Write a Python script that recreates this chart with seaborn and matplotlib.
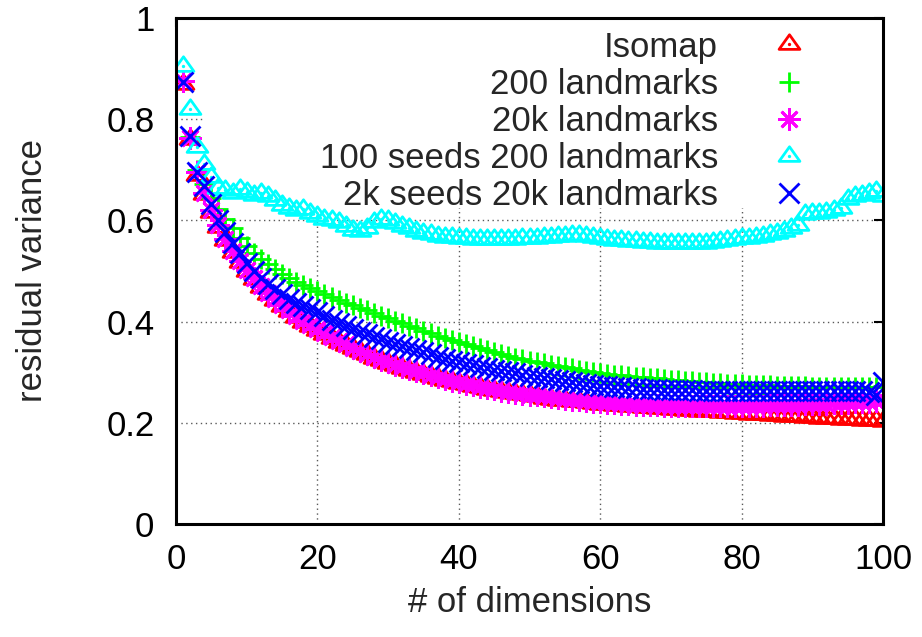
import matplotlib
matplotlib.use("Agg")
import matplotlib.pyplot as plt
from matplotlib.path import Path
from matplotlib.patches import Rectangle
import seaborn as sns

# residual variance vs number of dimensions
dims = list(range(1, 101))

isomap = [
    0.870, 0.760, 0.690, 0.652, 0.617, 0.587, 0.561, 0.538, 0.518, 0.500,
    0.484, 0.469, 0.455, 0.443, 0.431, 0.420, 0.410, 0.400, 0.391, 0.383,
    0.375, 0.367, 0.360, 0.353, 0.347, 0.341, 0.335, 0.329, 0.324, 0.319,
    0.314, 0.309, 0.305, 0.301, 0.297, 0.293, 0.289, 0.285, 0.282, 0.279,
    0.276, 0.273, 0.270, 0.267, 0.265, 0.262, 0.260, 0.258, 0.256, 0.254,
    0.252, 0.250, 0.248, 0.246, 0.245, 0.244, 0.243, 0.241, 0.240, 0.238,
    0.237, 0.236, 0.235, 0.234, 0.233, 0.232, 0.231, 0.230, 0.229, 0.228,
    0.227, 0.226, 0.225, 0.224, 0.223, 0.223, 0.222, 0.221, 0.220, 0.219,
    0.218, 0.217, 0.217, 0.216, 0.215, 0.214, 0.213, 0.213, 0.212, 0.211,
    0.210, 0.209, 0.209, 0.208, 0.207, 0.207, 0.206, 0.205, 0.205, 0.204,
]

lm200 = [
    0.876, 0.765, 0.700, 0.672, 0.645, 0.622, 0.603, 0.585, 0.566, 0.549,
    0.536, 0.524, 0.513, 0.503, 0.494, 0.486, 0.479, 0.472, 0.466, 0.460,
    0.454, 0.448, 0.443, 0.437, 0.432, 0.427, 0.422, 0.417, 0.412, 0.407,
    0.402, 0.397, 0.392, 0.387, 0.382, 0.377, 0.372, 0.367, 0.363, 0.359,
    0.355, 0.351, 0.347, 0.343, 0.339, 0.336, 0.332, 0.329, 0.326, 0.323,
    0.320, 0.318, 0.315, 0.313, 0.310, 0.308, 0.305, 0.303, 0.300, 0.298,
    0.296, 0.295, 0.294, 0.292, 0.291, 0.290, 0.289, 0.288, 0.286, 0.285,
    0.284, 0.283, 0.282, 0.281, 0.280, 0.279, 0.278, 0.277, 0.277, 0.276,
    0.275, 0.275, 0.274, 0.274, 0.273, 0.273, 0.272, 0.272, 0.272, 0.271,
    0.271, 0.271, 0.270, 0.270, 0.270, 0.270, 0.270, 0.270, 0.270, 0.272,
]

lm20k = [
    0.875, 0.762, 0.695, 0.655, 0.620, 0.590, 0.563, 0.540, 0.520, 0.502,
    0.486, 0.471, 0.457, 0.445, 0.433, 0.422, 0.412, 0.402, 0.393, 0.385,
    0.377, 0.369, 0.362, 0.355, 0.348, 0.342, 0.336, 0.330, 0.325, 0.320,
    0.315, 0.310, 0.306, 0.302, 0.298, 0.294, 0.290, 0.286, 0.283, 0.280,
    0.277, 0.274, 0.271, 0.268, 0.266, 0.263, 0.261, 0.259, 0.257, 0.255,
    0.254, 0.252, 0.251, 0.249, 0.248, 0.246, 0.245, 0.243, 0.242, 0.241,
    0.240, 0.239, 0.238, 0.237, 0.236, 0.236, 0.235, 0.235, 0.234, 0.234,
    0.234, 0.233, 0.233, 0.233, 0.233, 0.233, 0.233, 0.233, 0.233, 0.233,
    0.234, 0.234, 0.234, 0.235, 0.235, 0.235, 0.236, 0.236, 0.237, 0.237,
    0.238, 0.238, 0.239, 0.239, 0.240, 0.241, 0.241, 0.242, 0.243, 0.248,
]

seeds100_lm200 = [
    0.905, 0.820, 0.745, 0.712, 0.686, 0.665, 0.660, 0.655, 0.662, 0.656,
    0.650, 0.655, 0.648, 0.640, 0.630, 0.625, 0.620, 0.622, 0.615, 0.608,
    0.602, 0.600, 0.596, 0.588, 0.582, 0.580, 0.585, 0.596, 0.602, 0.600,
    0.594, 0.588, 0.584, 0.580, 0.576, 0.573, 0.570, 0.568, 0.567, 0.566,
    0.565, 0.564, 0.564, 0.563, 0.563, 0.563, 0.564, 0.564, 0.565, 0.566,
    0.566, 0.567, 0.568, 0.569, 0.570, 0.571, 0.572, 0.570, 0.568, 0.566,
    0.564, 0.562, 0.561, 0.560, 0.559, 0.558, 0.557, 0.556, 0.556, 0.556,
    0.555, 0.555, 0.555, 0.555, 0.556, 0.557, 0.559, 0.561, 0.563, 0.565,
    0.566, 0.567, 0.570, 0.573, 0.576, 0.580, 0.585, 0.590, 0.612, 0.614,
    0.615, 0.617, 0.620, 0.624, 0.642, 0.648, 0.650, 0.655, 0.658, 0.648,
]

seeds2k_lm20k = [
    0.874, 0.767, 0.696, 0.667, 0.633, 0.601, 0.578, 0.555, 0.535, 0.516,
    0.500, 0.487, 0.475, 0.464, 0.454, 0.445, 0.437, 0.430, 0.424, 0.418,
    0.411, 0.404, 0.398, 0.392, 0.386, 0.380, 0.375, 0.370, 0.365, 0.360,
    0.355, 0.351, 0.347, 0.343, 0.339, 0.335, 0.331, 0.327, 0.323, 0.320,
    0.317, 0.314, 0.311, 0.308, 0.305, 0.302, 0.300, 0.298, 0.295, 0.293,
    0.291, 0.289, 0.287, 0.285, 0.283, 0.281, 0.279, 0.277, 0.275, 0.273,
    0.272, 0.271, 0.270, 0.269, 0.268, 0.267, 0.266, 0.266, 0.265, 0.265,
    0.264, 0.264, 0.264, 0.263, 0.263, 0.263, 0.263, 0.263, 0.262, 0.262,
    0.262, 0.262, 0.262, 0.262, 0.262, 0.262, 0.262, 0.262, 0.262, 0.262,
    0.262, 0.262, 0.262, 0.262, 0.262, 0.262, 0.262, 0.261, 0.255, 0.281,
]

labels = ["Isomap", "200 landmarks", "20k landmarks",
          "100 seeds 200 landmarks", "2k seeds 20k landmarks"]
colors = ["#ff0000", "#00ff00", "#ff00ff", "#00ffff", "#0000ff"]
x_ticks = [0, 20, 40, 60, 80, 100]
y_ticks = [0, 0.2, 0.4, 0.6, 0.8, 1]
y_ticklabels = ["0", "0.2", "0.4", "0.6", "0.8", "1"]

sns.set_style("white")
plt.rcParams["font.family"] = ["Liberation Sans", "DejaVu Sans"]
FS = 25

# gnuplot style open triangle (centroid at the data point)
tri = Path([(-1, -0.467), (1, -0.467), (0, 0.933), (0, 0)],
           [Path.MOVETO, Path.LINETO, Path.LINETO, Path.CLOSEPOLY])

fig = plt.figure(figsize=(9.22, 6.37), dpi=100)
rect = [176 / 922, 1 - 524 / 637, (883 - 176) / 922, (524 - 18) / 637]

# grid lives on a back axes so the key box can hide it
gax = fig.add_axes(rect)
ax = fig.add_axes(rect, sharex=gax, sharey=gax)
gax.set_zorder(0)
ax.set_zorder(1)
ax.patch.set_visible(False)

gax.grid(True, color="0.35", linestyle=(0, (1, 2.5)), linewidth=1.0)
gax.tick_params(length=0, labelleft=False, labelbottom=False)
for s in gax.spines.values():
    s.set_visible(False)

ax.add_patch(Rectangle((0.041, 0.6245), 0.959, 0.3755, transform=ax.transAxes,
                       facecolor="white", edgecolor="none", zorder=1))

series = [isomap, lm200, lm20k, seeds100_lm200, seeds2k_lm20k]
markers = [tri, "+", (8, 2, 0), tri, "x"]
msizes = [15, 14, 16, 15, 14.5]
handles = []
for vals, mk, ms, c in zip(series, markers, msizes, colors):
    sns.lineplot(x=dims, y=vals, ax=ax, estimator=None, errorbar=None, sort=False,
                 linestyle="none", marker=mk, markersize=ms, markeredgewidth=2.0,
                 markeredgecolor=c, markerfacecolor="none", color=c)
    h = ax.lines[-1]
    if mk is tri:
        sns.lineplot(x=dims, y=vals, ax=ax, estimator=None, errorbar=None, sort=False,
                     linestyle="none", marker="o", markersize=2.4, markeredgewidth=0,
                     markerfacecolor=c, markeredgecolor=c, color=c)
        h = (h, ax.lines[-1])
    handles.append(h)

ax.set_xlim(0, 100)
ax.set_ylim(0, 1)
ax.set_xticks(x_ticks)
ax.set_yticks(y_ticks)
ax.set_yticklabels(y_ticklabels)
ax.tick_params(axis="both", direction="in", length=6.5, width=1.5, labelsize=FS,
               top=True, right=True, colors="black")
ax.tick_params(axis="y", pad=15.5)
ax.tick_params(axis="x", pad=13.5)
for s in ax.spines.values():
    s.set_visible(True)
    s.set_linewidth(2.2)
    s.set_color("black")

ax.set_xlabel("# of dimensions", fontsize=FS)
ax.set_ylabel("residual variance", fontsize=FS)
ax.xaxis.set_label_coords(0.5, -0.122)
ax.yaxis.set_label_coords(-0.18, 0.5)

leg = ax.legend(handles=handles, labels=labels, loc="upper right",
                bbox_to_anchor=(0.892, 0.975), frameon=False, markerfirst=False,
                handlelength=1.0, handletextpad=1.55, labelspacing=0.12,
                borderpad=0, borderaxespad=0, fontsize=FS)

plt.savefig("out.png", dpi=100)
